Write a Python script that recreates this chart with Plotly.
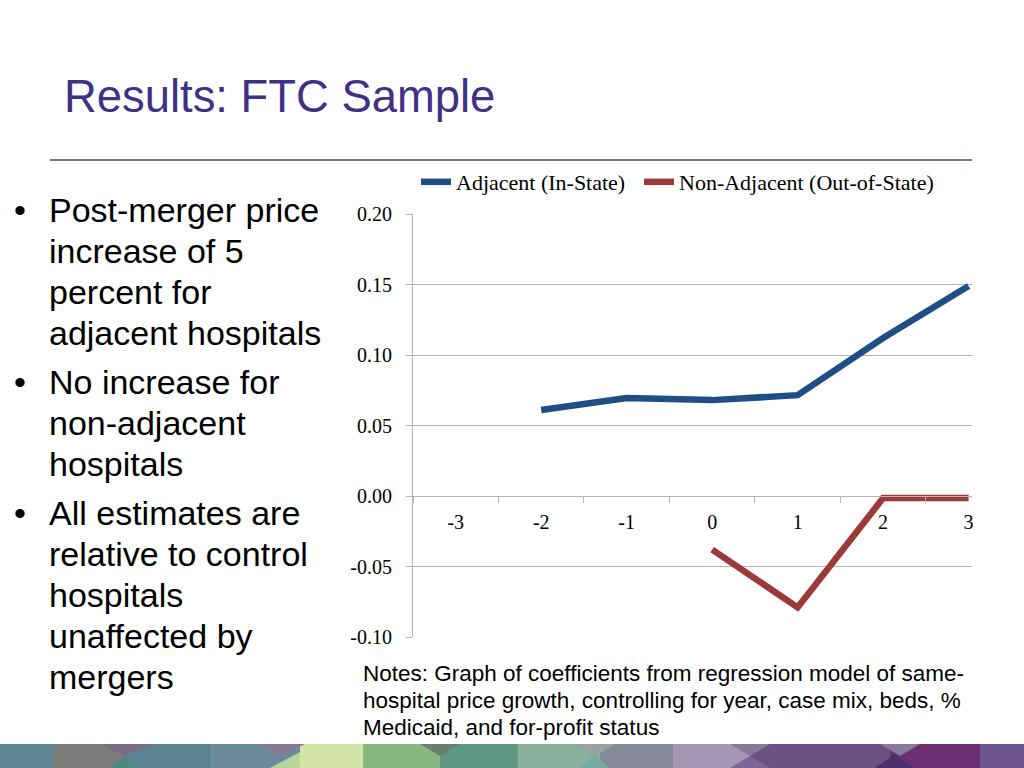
import plotly.graph_objects as go

# ---------------- data ----------------
categories = ["-3", "-2", "-1", "0", "1", "2", "3"]
adj_x = ["-2", "-1", "0", "1", "2", "3"]
adj_y = [0.061, 0.0695, 0.068, 0.0715, 0.112, 0.149]
nonadj_x = ["0", "1", "2", "3"]
nonadj_y = [-0.038, -0.079, -0.0015, -0.0015]
y_ticks = [-0.10, -0.05, 0.00, 0.05, 0.10, 0.15, 0.20]
series_names = ["Adjacent (In-State)", "Non-Adjacent (Out-of-State)"]

title_text = "Results: FTC Sample"
bullets = [
    ["Post-merger price", "increase of 5", "percent for", "adjacent hospitals"],
    ["No increase for", "non-adjacent", "hospitals"],
    ["All estimates are", "relative to control", "hospitals", "unaffected by", "mergers"],
]
notes_lines = [
    "Notes: Graph of coefficients from regression model of same-",
    "hospital price growth, controlling for year, case mix, beds, %",
    "Medicaid, and for-profit status",
]

# ---------------- geometry helpers (page pixel coords) ----------------
W, H = 1024, 768
OFF = 0  # page body margin (removed via post_script)
PL, PR, PT, PB = 413, 972, 214, 637  # plot area in page pixels


def px(x):
    return (x - PL) / (PR - PL)


def py(y):
    return (PB - y) / (PB - PT)


BLUE = "#1f4e86"
RED = "#9b3a38"
GRID = "#b5b5b5"
SERIF = "Liberation Serif, Times New Roman, serif"
SANS = "Liberation Sans, Arial, sans-serif"

fig = go.Figure()
fig.add_trace(go.Scatter(x=adj_x, y=adj_y, mode="lines", name=series_names[0],
                         line=dict(color=BLUE, width=6.5), legendwidth=178))
fig.add_trace(go.Scatter(x=nonadj_x, y=nonadj_y, mode="lines", name=series_names[1],
                         line=dict(color=RED, width=6.5), legendwidth=262))

annotations = []
# title
annotations.append(dict(text=title_text, x=px(62), y=py(97), xref="paper", yref="paper",
                        xanchor="left", yanchor="middle", showarrow=False,
                        font=dict(family=SANS, size=45.4, color="#3f3286")))
# bullets
ycur = 210
step = 41
gap = 8
for group in bullets:
    annotations.append(dict(text="•", x=px(12), y=py(ycur), xref="paper", yref="paper",
                            xanchor="left", yanchor="middle", showarrow=False,
                            font=dict(family=SANS, size=34, color="#000000")))
    for line in group:
        annotations.append(dict(text=line, x=px(47), y=py(ycur), xref="paper", yref="paper",
                                xanchor="left", yanchor="middle", showarrow=False,
                                font=dict(family=SANS, size=34, color="#000000")))
        ycur += step
    ycur += gap
# notes
for i, line in enumerate(notes_lines):
    annotations.append(dict(text=line, x=px(361), y=py(673 + 27 * i), xref="paper", yref="paper",
                            xanchor="left", yanchor="middle", showarrow=False,
                            font=dict(family=SANS, size=22.5, color="#000000")))

shapes = []
# separator line
shapes.append(dict(type="line", xref="paper", yref="paper", x0=px(50), x1=px(972),
                   y0=py(160), y1=py(160), line=dict(color="#4a4686", width=1.5)))

# decorative bottom stripe
stripe = [
    (0, 53, "#5e8695"), (53, 125, "#7a7d79"), (125, 210, "#5b8391"),
    (210, 300, "#6c8a9b"), (300, 363, "#d4e3a9"), (363, 440, "#86b880"),
    (440, 518, "#5f9882"), (518, 600, "#8ab0a0"), (600, 673, "#878898"),
    (673, 750, "#a496b4"), (750, 890, "#6b5083"), (890, 980, "#6c2f72"),
    (980, 1024, "#6d5590"),
]
SY0, SY1 = 744, 768
for a, b, c in stripe:
    shapes.append(dict(type="rect", xref="paper", yref="paper", x0=px(a), x1=px(b),
                       y0=py(SY1), y1=py(SY0), fillcolor=c, line=dict(width=0), layer="above"))
tris = [
    ([(100, SY0), (150, SY0), (125, 756)], "#7b6b85"),
    ([(110, SY1), (140, SY1), (125, 756)], "#4f8a80"),
    ([(262, SY0), (305, SY0), (280, 756)], "#8a7890"),
    ([(270, SY1), (300, SY1), (300, 752)], "#b8d49a"),
    ([(420, SY0), (460, SY0), (440, 756)], "#6b7d74"),
    ([(575, SY0), (615, SY0), (595, 756)], "#9aa2a0"),
    ([(580, SY1), (610, SY1), (595, 754)], "#7aa9a4"),
    ([(730, SY0), (770, SY0), (750, 756)], "#8a7898"),
    ([(730, SY1), (770, SY1), (750, 756)], "#7d6595"),
    ([(880, SY0), (920, SY0), (900, 756)], "#8a7a9a"),
    ([(875, SY1), (915, SY1), (895, 754)], "#4e2f6e"),
]
for pts, c in tris:
    path = "M " + " L ".join(f"{px(x):.5f},{py(y):.5f}" for x, y in pts) + " Z"
    shapes.append(dict(type="path", xref="paper", yref="paper", path=path,
                       fillcolor=c, line=dict(width=0), layer="above"))

fig.update_layout(
    width=W, height=H,
    margin=dict(l=PL - OFF, r=W - (PR - OFF), t=PT - OFF, b=H - (PB - OFF), pad=0),
    paper_bgcolor="white", plot_bgcolor="white",
    showlegend=True,
    legend=dict(orientation="h", x=px(416), y=py(182), xanchor="left", yanchor="middle",
                font=dict(family=SERIF, size=22, color="#000000"),
                itemwidth=30, bgcolor="rgba(0,0,0,0)", traceorder="normal"),
    annotations=annotations,
    shapes=shapes,
)
fig.update_xaxes(
    type="category", categoryorder="array", categoryarray=categories,
    range=[-0.5, 6.04], anchor="free", position=(0 - y_ticks[0]) / (y_ticks[-1] - y_ticks[0]),
    showgrid=False, showline=True, linecolor=GRID, linewidth=1,
    ticks="outside", ticklen=6, tickcolor=GRID, tickson="boundaries",
    ticklabelstandoff=8,
    tickfont=dict(family=SERIF, size=20, color="#000000"),
    zeroline=False, fixedrange=True,
)
fig.update_yaxes(
    range=[y_ticks[0], y_ticks[-1]], tickvals=y_ticks,
    ticktext=[f"{v:.2f}" for v in y_ticks],
    showgrid=True, gridcolor=GRID, gridwidth=1,
    showline=True, linecolor=GRID, linewidth=1,
    ticks="outside", ticklen=6, tickcolor=GRID, ticklabelstandoff=10,
    tickfont=dict(family=SERIF, size=20, color="#000000"),
    zeroline=False, fixedrange=True,
)

fig.write_html("out.html", config={"displayModeBar": False},
               post_script="document.body.style.margin='0px';")
